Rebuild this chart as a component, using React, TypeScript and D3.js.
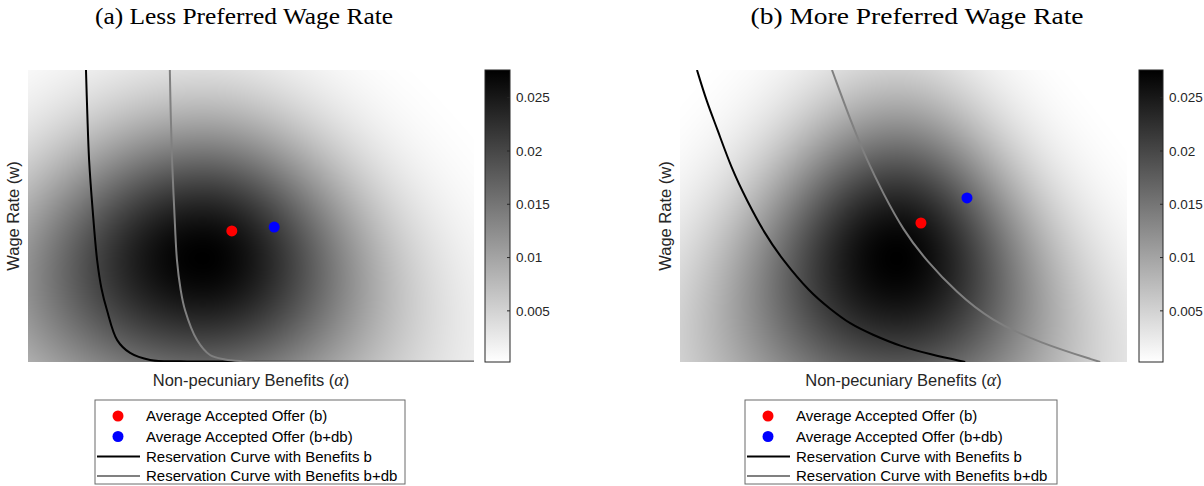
import React, { useMemo } from "react";
import * as d3 from "d3";

// Axis domains (normalised units: non-pecuniary benefits alpha, wage rate w)
const ALPHA_DOMAIN: [number, number] = [0, 1];
const WAGE_DOMAIN: [number, number] = [0, 1];

// Colour limits of the offer density and colourbar ticks
const DENSITY_LIMITS: [number, number] = [0.0002, 0.0276];
const COLORBAR_TICKS = [0.005, 0.01, 0.015, 0.02, 0.025];

// Offer density parameters:
// [peak, alpha mode, wage mode, sd left, sd right, sd below, sd above, spread narrowing with w]
const DENSITY_LESS = [0.0276, 0.392, 0.356, 0.303, 0.256, 0.356, 0.325, 0.4];
const DENSITY_MORE = [0.0276, 0.485, 0.356, 0.245, 0.222, 0.4, 0.356, 0.6];

// Reservation curves [alpha, w]
const RES_LESS_B: [number, number][] = [
  [0.13, 1.0], [0.133, 0.85], [0.137, 0.692], [0.145, 0.52], [0.155, 0.349],
  [0.165, 0.25], [0.177, 0.178], [0.2, 0.075], [0.229, 0.031], [0.274, 0.007],
  [0.341, 0.0025], [0.475, 0.0014], [0.7, 0.001], [1.0, 0.0007],
];
const RES_LESS_BDB: [number, number][] = [
  [0.318, 1.0], [0.32, 0.85], [0.323, 0.692], [0.328, 0.52], [0.334, 0.349],
  [0.342, 0.25], [0.352, 0.178], [0.379, 0.075], [0.408, 0.024], [0.442, 0.0086],
  [0.475, 0.0034], [0.61, 0.0014], [0.8, 0.001], [1.0, 0.0007],
];
const RES_MORE_B: [number, number][] = [
  [0.038, 1.0], [0.06, 0.89], [0.083, 0.8], [0.115, 0.663], [0.15, 0.552],
  [0.19, 0.438], [0.23, 0.349], [0.291, 0.238], [0.335, 0.183], [0.38, 0.13],
  [0.43, 0.094], [0.492, 0.054], [0.56, 0.026], [0.638, 0.0],
];
const RES_MORE_BDB: [number, number][] = [
  [0.34, 1.0], [0.387, 0.805], [0.418, 0.692], [0.454, 0.579], [0.499, 0.452],
  [0.55, 0.349], [0.62, 0.236], [0.694, 0.144], [0.805, 0.065], [0.94, 0.0],
];

// Average accepted offers [alpha, w]
const OFFER_LESS_B: [number, number] = [0.457, 0.449];
const OFFER_LESS_BDB: [number, number] = [0.552, 0.462];
const OFFER_MORE_B: [number, number] = [0.539, 0.476];
const OFFER_MORE_BDB: [number, number] = [0.642, 0.562];

const LEGEND_LABELS = [
  "Average Accepted Offer (b)",
  "Average Accepted Offer (b+db)",
  "Reservation Curve with Benefits b",
  "Reservation Curve with Benefits b+db",
];

const SANS = "'Liberation Sans', Arial, Helvetica, sans-serif";
const SERIF = "'Liberation Serif', 'Times New Roman', serif";
const AXIS_TEXT = "#262626";
const GRAY_CURVE = "#808080";

// Split-normal offer density whose alpha spread narrows as the wage rises
function density(p: number[], a: number, w: number) {
  const [peak, ma, mw, sL, sR, sD, sU, g] = p;
  const shrink = Math.exp(-g * (w - mw));
  const sa = (a < ma ? sL : sR) * shrink;
  const sw = w < mw ? sD : sU;
  return peak * Math.exp(-0.5 * ((a - ma) / sa) ** 2 - 0.5 * ((w - mw) / sw) ** 2);
}

const color = d3
  .scaleLinear<string>()
  .domain(DENSITY_LIMITS)
  .range(["#ffffff", "#000000"])
  .clamp(true);

function densityImage(
  p: number[],
  x: d3.ScaleLinear<number, number>,
  y: d3.ScaleLinear<number, number>
) {
  const [r0, r1] = x.range();
  const [b0, b1] = y.range();
  const w = Math.round(r1 - r0);
  const h = Math.round(b0 - b1);
  const canvas = document.createElement("canvas");
  canvas.width = w;
  canvas.height = h;
  const ctx = canvas.getContext("2d")!;
  const img = ctx.createImageData(w, h);
  for (let j = 0; j < h; j++) {
    const wage = y.invert(b1 + j + 0.5);
    for (let i = 0; i < w; i++) {
      const alpha = x.invert(r0 + i + 0.5);
      const c = d3.rgb(color(density(p, alpha, wage)));
      const k = (j * w + i) * 4;
      img.data[k] = c.r;
      img.data[k + 1] = c.g;
      img.data[k + 2] = c.b;
      img.data[k + 3] = 255;
    }
  }
  ctx.putImageData(img, 0, 0);
  return canvas.toDataURL();
}

type PanelProps = {
  id: string;
  title: string;
  titleX: number;
  titleLen: number;
  x0: number;
  x1: number;
  cbX0: number;
  cbX1: number;
  legendX: number;
  legendW: number;
  params: number[];
  curveB: [number, number][];
  curveBdb: [number, number][];
  offerB: [number, number];
  offerBdb: [number, number];
  smooth: d3.CurveFactory;
};

function Panel(props: PanelProps) {
  const { id, x0, x1, cbX0, cbX1, params } = props;
  const y0 = 70;
  const y1 = 362;
  const x = d3.scaleLinear().domain(ALPHA_DOMAIN).range([x0, x1]);
  const y = d3.scaleLinear().domain(WAGE_DOMAIN).range([y1, y0]);
  const href = useMemo(() => densityImage(params, x, y), [params, x0, x1]);

  const line = d3
    .line<[number, number]>()
    .x((d) => x(d[0]))
    .y((d) => y(d[1]))
    .curve(props.smooth);

  const cb = d3.scaleLinear().domain(DENSITY_LIMITS).range([y1, y0]);

  const lx = props.legendX;
  const ly = 400;
  const rows = [416, 436.5, 456.5, 476];

  return (
    <g>
      <text
        x={props.titleX}
        y={24}
        textAnchor="middle"
        fontFamily={SERIF}
        fontSize={24}
        textLength={props.titleLen}
        lengthAdjust="spacingAndGlyphs"
        fill="#000"
      >
        {props.title}
      </text>

      <clipPath id={`clip-${id}`}>
        <rect x={x0} y={y0} width={x1 - x0} height={y1 - y0} />
      </clipPath>
      <image
        href={href}
        x={x0}
        y={y0}
        width={x1 - x0}
        height={y1 - y0}
        preserveAspectRatio="none"
      />
      <g clipPath={`url(#clip-${id})`}>
        <path d={line(props.curveB) || ""} fill="none" stroke="#000" strokeWidth={2} />
        <path d={line(props.curveBdb) || ""} fill="none" stroke={GRAY_CURVE} strokeWidth={2} />
      </g>
      <circle cx={x(props.offerB[0])} cy={y(props.offerB[1])} r={5.5} fill="#ff0000" />
      <circle cx={x(props.offerBdb[0])} cy={y(props.offerBdb[1])} r={5.5} fill="#0000ff" />

      <text
        transform={`translate(${x0 - 9},${(y0 + y1) / 2}) rotate(-90)`}
        textAnchor="middle"
        fontFamily={SANS}
        fontSize={16.5}
        fill={AXIS_TEXT}
      >
        Wage Rate (w)
      </text>
      <text
        x={(x0 + x1) / 2}
        y={386}
        textAnchor="middle"
        fontFamily={SANS}
        fontSize={16.5}
        fill={AXIS_TEXT}
      >
        Non-pecuniary Benefits (
        <tspan fontFamily={SERIF} fontStyle="italic" fontSize={18}>
          α
        </tspan>
        )
      </text>

      {/* colourbar */}
      <defs>
        <linearGradient id={`cbgrad-${id}`} x1="0" y1="1" x2="0" y2="0">
          <stop offset="0" stopColor={color(DENSITY_LIMITS[0])} />
          <stop offset="1" stopColor={color(DENSITY_LIMITS[1])} />
        </linearGradient>
      </defs>
      <rect
        x={cbX0}
        y={y0}
        width={cbX1 - cbX0}
        height={y1 - y0}
        fill={`url(#cbgrad-${id})`}
        stroke={AXIS_TEXT}
        strokeWidth={1}
      />
      {COLORBAR_TICKS.map((t) => (
        <g key={t}>
          <line x1={cbX1 - 3} x2={cbX1} y1={cb(t)} y2={cb(t)} stroke={AXIS_TEXT} strokeWidth={1} />
          <text
            x={cbX1 + 6}
            y={cb(t)}
            dy="0.35em"
            fontFamily={SANS}
            fontSize={13.5}
            fill={AXIS_TEXT}
          >
            {String(t)}
          </text>
        </g>
      ))}

      {/* legend */}
      <rect
        x={lx}
        y={ly}
        width={props.legendW}
        height={84}
        fill="#fff"
        stroke="#6b6b6b"
        strokeWidth={1}
      />
      <circle cx={lx + 23} cy={rows[0]} r={5.5} fill="#ff0000" />
      <circle cx={lx + 23} cy={rows[1]} r={5.5} fill="#0000ff" />
      <line x1={lx + 2} x2={lx + 45} y1={rows[2]} y2={rows[2]} stroke="#000" strokeWidth={2} />
      <line x1={lx + 2} x2={lx + 45} y1={rows[3]} y2={rows[3]} stroke={GRAY_CURVE} strokeWidth={2} />
      {LEGEND_LABELS.map((l, i) => (
        <text
          key={l}
          x={lx + 51}
          y={rows[i]}
          dy="0.35em"
          fontFamily={SANS}
          fontSize={15}
          fill="#000"
        >
          {l}
        </text>
      ))}
    </g>
  );
}

export default function App() {
  return (
    <svg
      width={1204}
      height={486}
      style={{ position: "absolute", left: 0, top: 0, background: "#fff" }}
    >
      <rect width={1204} height={486} fill="#fff" />
      <Panel
        id="less"
        title="(a) Less Preferred Wage Rate"
        titleX={244}
        titleLen={298}
        x0={28}
        x1={474}
        cbX0={485}
        cbX1={510}
        legendX={95}
        legendW={310}
        params={DENSITY_LESS}
        curveB={RES_LESS_B}
        curveBdb={RES_LESS_BDB}
        offerB={OFFER_LESS_B}
        offerBdb={OFFER_LESS_BDB}
        smooth={d3.curveCatmullRom.alpha(0.5)}
      />
      <Panel
        id="more"
        title="(b) More Preferred Wage Rate"
        titleX={917}
        titleLen={333}
        x0={680}
        x1={1127}
        cbX0={1139}
        cbX1={1163}
        legendX={745}
        legendW={312}
        params={DENSITY_MORE}
        curveB={RES_MORE_B}
        curveBdb={RES_MORE_BDB}
        offerB={OFFER_MORE_B}
        offerBdb={OFFER_MORE_BDB}
        smooth={d3.curveBasis}
      />
    </svg>
  );
}
